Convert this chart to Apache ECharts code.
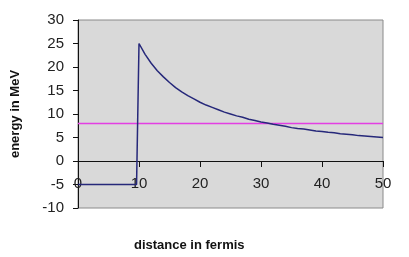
<!DOCTYPE html>
<html><head><meta charset="utf-8">
<script src="https://cdn.jsdelivr.net/npm/echarts@6/dist/echarts.min.js"></script>
<style>html,body{margin:0;padding:0;background:#fff}#c{width:409px;height:257px}</style>
</head><body><div id="c"></div>
<script>
var distance = [0, 9.6, 10, 11, 12, 13, 14, 15, 16, 17, 18, 19, 20, 21, 22, 23, 24, 25, 26, 27, 28, 29, 30,
  31, 32, 33, 34, 35, 36, 37, 38, 39, 40, 41, 42, 43, 44, 45, 46, 47, 48, 49, 50];
var energy = [-5, -5, 25, 22.7, 20.8, 19.2, 17.9, 16.7, 15.6, 14.7, 13.9, 13.2, 12.5, 11.9, 11.4, 10.9, 10.4, 10.0, 9.6, 9.3, 8.9, 8.6, 8.3,
  8.1, 7.8, 7.6, 7.4, 7.1, 6.9, 6.8, 6.6, 6.4, 6.3, 6.1, 6.0, 5.8, 5.7, 5.6, 5.4, 5.3, 5.2, 5.1, 5.0];
var levelX = [0, 50];
var levelY = [8, 8];
var xTicks = [0, 10, 20, 30, 40, 50];
var yTicks = [-10, -5, 0, 5, 10, 15, 20, 25, 30];
var xTitle = 'distance in fermis';
var yTitle = 'energy in MeV';

var font = 'Liberation Sans, Arial, sans-serif';
var xMin = xTicks[0], xMax = xTicks[xTicks.length - 1];
var yMin = yTicks[0], yMax = yTicks[yTicks.length - 1];
var chart = echarts.init(document.getElementById('c'), null, {renderer: 'canvas'});
function zip(a, b) { return a.map(function (v, i) { return [v, b[i]]; }); }
chart.setOption({
  animation: false,
  backgroundColor: '#ffffff',
  title: {
    text: xTitle, left: 129, top: 234,
    textStyle: {fontFamily: font, fontSize: 13, fontWeight: 'bold', color: '#111'}
  },
  grid: {left: 78, top: 20, right: 26, bottom: 49, show: false},
  xAxis: {
    type: 'value', zlevel: 1, min: xMin, max: xMax, interval: 10,
    axisLine: {show: true, onZero: true, lineStyle: {color: '#111111', width: 1}},
    axisTick: {show: true, inside: false, length: 6, lineStyle: {color: '#111111', width: 1}},
    axisLabel: {margin: -32, fontFamily: font, fontSize: 15, color: '#222'},
    splitLine: {show: false}
  },
  yAxis: {
    type: 'value', zlevel: 1, min: yMin, max: yMax, interval: 5,
    name: yTitle, nameLocation: 'middle', nameRotate: 90, nameGap: 56,
    nameTextStyle: {fontFamily: font, fontSize: 13, fontWeight: 'bold', color: '#111'},
    axisLine: {show: true, onZero: false, lineStyle: {color: '#111111', width: 1}},
    axisTick: {show: true, inside: false, length: 5, lineStyle: {color: '#111111', width: 1}},
    axisLabel: {margin: 14, fontFamily: font, fontSize: 15, color: '#222'},
    splitLine: {show: false}
  },
  series: [{
    type: 'line', zlevel: 0, z: -1, data: [], silent: true,
    markArea: {silent: true,
      itemStyle: {color: '#d9d9d9', borderColor: '#8a8a8a', borderWidth: 1},
      data: [[{coord: [xMin, yMin]}, {coord: [xMax, yMax]}]]}
  }, {
    type: 'line', zlevel: 2, data: zip(levelX, levelY), symbol: 'none',
    lineStyle: {color: '#e33fe3', width: 1.5}
  }, {
    type: 'line', zlevel: 2, data: zip(distance, energy), symbol: 'none',
    lineStyle: {color: '#26287a', width: 1.5}
  }]
});
</script></body></html>
